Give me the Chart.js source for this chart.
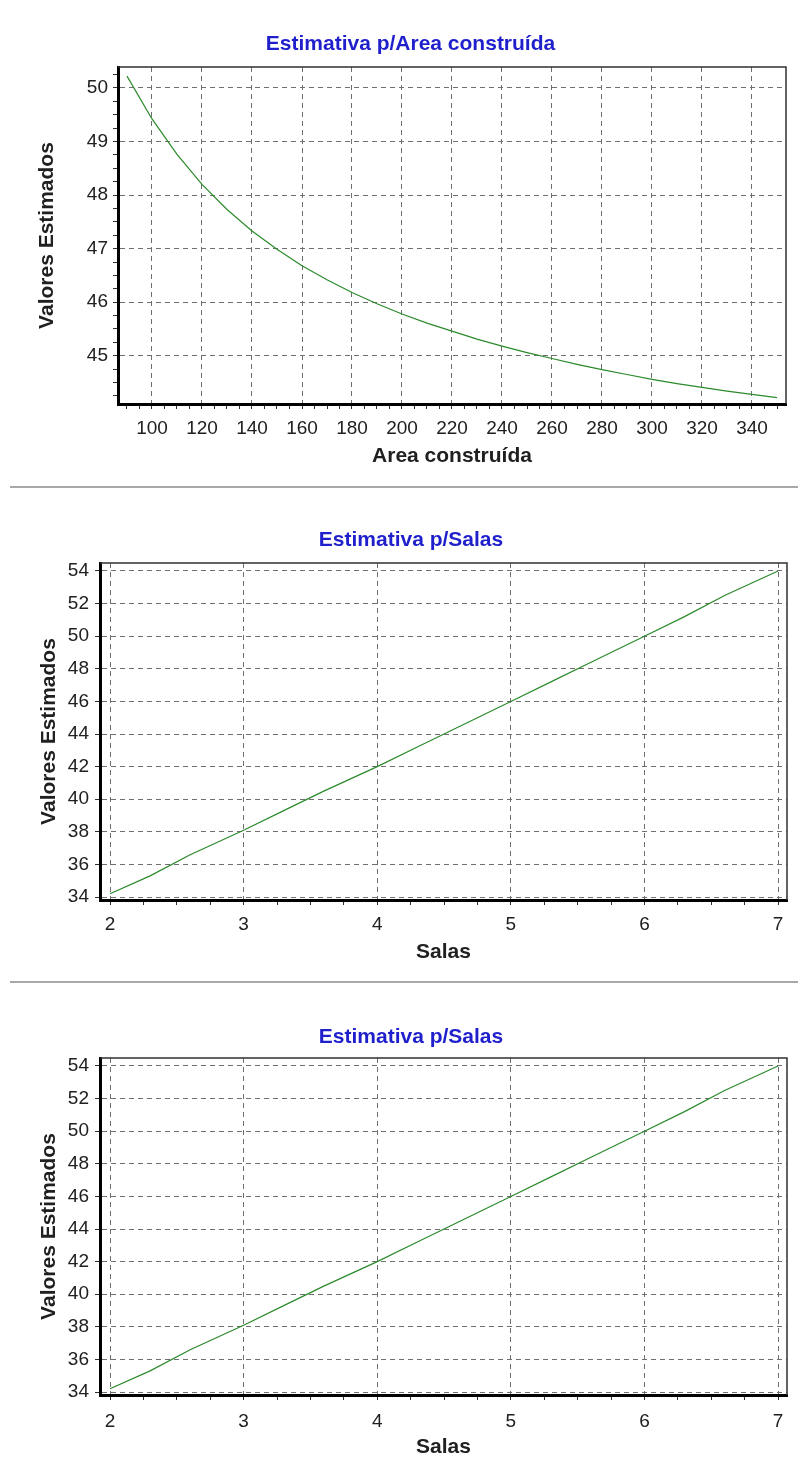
<!DOCTYPE html>
<html lang="pt">
<head>
    <meta charset="UTF-8">
    <title>Valores Estimados</title>
    <style>
        body {
            margin: 0;
            padding: 0;
            background-color: #ffffff;
            width: 798px;
            height: 1473px;
            position: relative;
            overflow: hidden;
        }
        canvas {
            position: absolute;
            left: 0;
        }
        .sep {
            position: absolute;
            left: 10px;
            right: 0;
            height: 2px;
            background-color: #a8a8a8;
        }
    </style>
</head>
<body>
    <canvas id="chartArea" width="798" height="487" style="top:0px"></canvas>
    <div class="sep" style="top:486px"></div>
    <canvas id="chartSalas1" width="798" height="495" style="top:487px"></canvas>
    <div class="sep" style="top:981px"></div>
    <canvas id="chartSalas2" width="798" height="491" style="top:982px"></canvas>

    <script src="https://cdn.jsdelivr.net/npm/chart.js"></script>
    <script>
        // Area construída -> valores estimados
        const areaX = [90, 100, 110, 120, 130, 140, 150, 160, 170, 180, 190, 200, 210, 220,
                       230, 240, 250, 260, 270, 280, 290, 300, 310, 320, 330, 340, 350];
        const areaY = [50.22, 49.42, 48.76, 48.20, 47.73, 47.33, 46.99, 46.68, 46.42, 46.18,
                       45.97, 45.78, 45.61, 45.46, 45.31, 45.18, 45.06, 44.95, 44.84, 44.74,
                       44.65, 44.56, 44.48, 44.41, 44.34, 44.28, 44.22];
        const areaXTicks = [100, 120, 140, 160, 180, 200, 220, 240, 260, 280, 300, 320, 340];
        const areaYTicks = [45, 46, 47, 48, 49, 50];

        // Salas -> valores estimados
        const salasX = [2, 2.3, 2.6, 3, 3.3, 3.6, 4, 4.3, 4.6, 5, 5.3, 5.6, 6, 6.3, 6.6, 7];
        const salasY = [34.2, 35.3, 36.6, 38.1, 39.3, 40.5, 42.0, 43.2, 44.4, 46.0,
                        47.2, 48.4, 50.0, 51.2, 52.5, 54.0];
        const salasXTicks = [2, 3, 4, 5, 6, 7];
        const salasYTicks = [34, 36, 38, 40, 42, 44, 46, 48, 50, 52, 54];

        const FONT = "'Liberation Sans', Arial, sans-serif";
        const GRID = '#707070';

        function isMajor(list, v) {
            return list.some(t => Math.abs(t - v) < 1e-6);
        }

        // linha fina no topo e à direita
        const framePlugin = {
            id: 'frame',
            afterDraw(chart) {
                const { ctx, chartArea: a } = chart;
                ctx.save();
                ctx.strokeStyle = '#303030';
                ctx.lineWidth = 1.5;
                ctx.beginPath();
                ctx.moveTo(a.left, a.top);
                ctx.lineTo(a.right, a.top);
                ctx.lineTo(a.right, a.bottom);
                ctx.stroke();
                ctx.restore();
            }
        };

        function axis(o) {
            return {
                type: 'linear',
                position: o.position,
                min: o.min,
                max: o.max,
                afterFit: o.position === 'left'
                    ? s => { s.width = o.size; }
                    : s => { s.height = o.size; },
                grid: {
                    color: c => isMajor(o.majors, c.tick.value) ? GRID : 'rgba(0,0,0,0)',
                    tickColor: '#303030',
                    tickLength: 5,
                    lineWidth: 1
                },
                border: { color: '#000', width: 3, dash: [5, 4] },
                ticks: {
                    stepSize: o.step,
                    includeBounds: false,
                    autoSkip: false,
                    maxRotation: 0,
                    padding: o.tickPad,
                    color: '#202020',
                    font: { family: FONT, size: 19 },
                    callback: v => isMajor(o.majors, v) ? String(Math.round(v)) : ''
                },
                title: {
                    display: true,
                    text: o.title,
                    color: '#202020',
                    font: { family: FONT, size: 21, weight: 'bold' },
                    padding: o.titlePad
                }
            };
        }

        function makeChart(id, cfg) {
            new Chart(document.getElementById(id), {
                type: 'scatter',
                data: {
                    datasets: [{
                        data: cfg.xs.map((x, i) => ({ x: x, y: cfg.ys[i] })),
                        showLine: true,
                        borderColor: '#2b8a2b',
                        borderWidth: 1.2,
                        pointRadius: 0,
                        tension: 0
                    }]
                },
                options: {
                    responsive: false,
                    animation: false,
                    layout: { padding: { left: cfg.padL, right: cfg.padR, top: 0, bottom: 0 } },
                    plugins: {
                        legend: { display: false },
                        tooltip: { enabled: false },
                        title: {
                            display: true,
                            text: cfg.title,
                            color: '#1f1fcc',
                            font: { family: FONT, size: 21, weight: 'bold' },
                            padding: cfg.titlePad
                        }
                    },
                    scales: { x: cfg.x, y: cfg.y }
                },
                plugins: [framePlugin]
            });
        }

        makeChart('chartArea', {
            title: 'Estimativa p/Area construída',
            titlePad: { top: 31.4, bottom: 10.4 },
            padL: 35, padR: 12,
            xs: areaX, ys: areaY,
            x: axis({ position: 'bottom', min: 86.4, max: 353.6, step: 5, majors: areaXTicks,
                      size: 83, tickPad: 8.6, title: 'Area construída', titlePad: { top: 0, bottom: 18.4 } }),
            y: axis({ position: 'left', min: 44.1, max: 50.39, step: 0.25, majors: areaYTicks,
                      size: 83, tickPad: 5, title: 'Valores Estimados', titlePad: { top: 0, bottom: 0 } })
        });

        makeChart('chartSalas1', {
            title: 'Estimativa p/Salas',
            titlePad: { top: 40.4, bottom: 10.4 },
            padL: 35, padR: 11,
            xs: salasX, ys: salasY,
            x: axis({ position: 'bottom', min: 1.925, max: 7.067, step: 0.25, majors: salasXTicks,
                      size: 82, tickPad: 8.6, title: 'Salas', titlePad: { top: 0, bottom: 17.4 } }),
            y: axis({ position: 'left', min: 33.82, max: 54.49, step: 2, majors: salasYTicks,
                      size: 65, tickPad: 6, title: 'Valores Estimados', titlePad: { top: 1.4, bottom: 0 } })
        });

        makeChart('chartSalas2', {
            title: 'Estimativa p/Salas',
            titlePad: { top: 42.4, bottom: 8.4 },
            padL: 35, padR: 11,
            xs: salasX, ys: salasY,
            x: axis({ position: 'bottom', min: 1.925, max: 7.067, step: 0.25, majors: salasXTicks,
                      size: 78, tickPad: 10.6, title: 'Salas', titlePad: { top: 0, bottom: 13.4 } }),
            y: axis({ position: 'left', min: 33.82, max: 54.49, step: 2, majors: salasYTicks,
                      size: 65, tickPad: 6, title: 'Valores Estimados', titlePad: { top: 1.4, bottom: 0 } })
        });
    </script>
</body>
</html>
